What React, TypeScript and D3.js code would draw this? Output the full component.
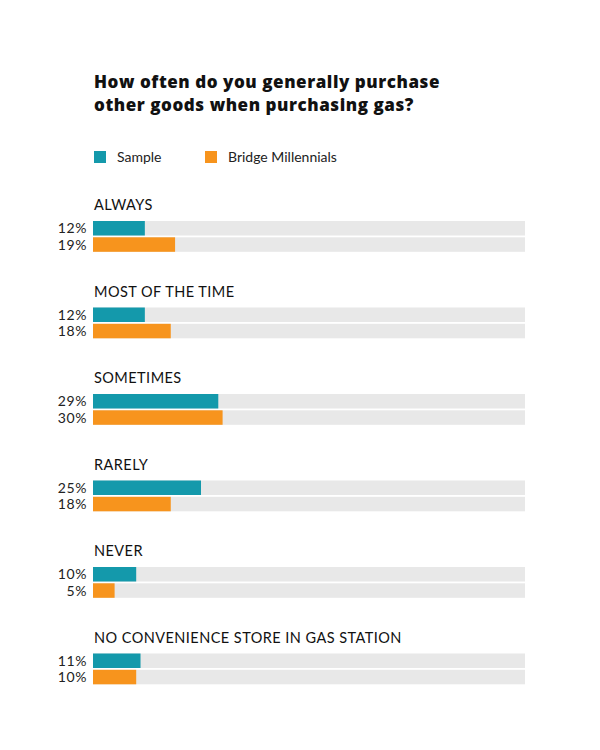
import React from "react";
import * as d3 from "d3";

const categories = ["ALWAYS", "MOST OF THE TIME", "SOMETIMES", "RARELY", "NEVER", "NO CONVENIENCE STORE IN GAS STATION"];
const seriesNames = ["Sample", "Bridge Millennials"];
const sampleValues = [12, 12, 29, 25, 10, 11];
const bridgeValues = [19, 18, 30, 18, 5, 10];
const colors = ["#1499ab", "#f7941d"];
const titleLines = ["How often do you generally purchase", "other goods when purchasing gas?"];

export default function App() {
  const W = 600, H = 750;
  const x = d3.scaleLinear().domain([0, 100]).range([93, 525]);
  const y = d3.scaleBand().domain(categories).range([192, 711]).paddingInner(0);
  const series = [sampleValues, bridgeValues];
  const barH = 14.5;
  const barGap = 1.8;
  const font = "Lato, 'Open Sans', sans-serif";
  return (
    <svg width={W} height={H} style={{ position: "absolute", left: 0, top: 0, background: "#fff" }}>
      {titleLines.map((t, i) => (
        <text key={i} x={94} y={88 + i * 23} fontFamily="'Open Sans', sans-serif" fontWeight={800} fontSize={17} letterSpacing={0.55} fill="#111">{t}</text>
      ))}
      {seriesNames.map((s, i) => {
        const lx = i === 0 ? 94 : 205;
        return (
          <g key={s}>
            <rect x={lx} y={151} width={12} height={12} fill={colors[i]} />
            <text x={lx + 23} y={162} fontFamily={font} fontSize={14} fill="#222">{s}</text>
          </g>
        );
      })}
      {categories.map((c, ci) => {
        const y0 = y(c)!;
        return (
          <g key={c}>
            <text x={94} y={y0 + 18} fontFamily={font} fontSize={14.5} fill="#111" letterSpacing={0.45}>{c}</text>
            {series.map((vals, si) => {
              const by = y0 + 29 + si * (barH + barGap);
              return (
                <g key={si}>
                  <rect x={x(0)} y={by} width={x(100) - x(0)} height={barH} fill="#e8e8e8" />
                  <rect x={x(0)} y={by} width={x(vals[ci]) - x(0)} height={barH} fill={colors[si]} />
                  <text x={87} y={by + barH / 2} dy="0.36em" textAnchor="end" fontFamily={font} fontWeight={400} fontSize={14} letterSpacing={0.6} fill="#222">{vals[ci]}%</text>
                </g>
              );
            })}
          </g>
        );
      })}
    </svg>
  );
}
